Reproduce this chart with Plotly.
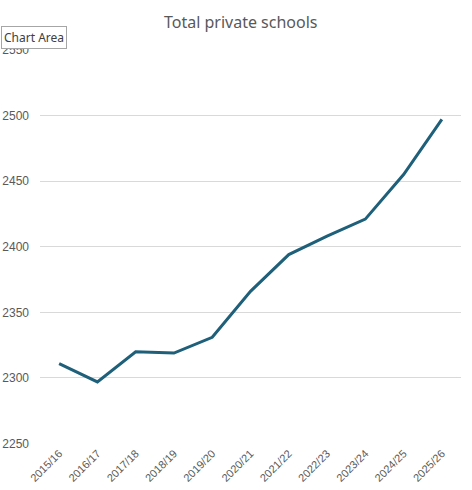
import plotly.graph_objects as go

# School years and number of private schools
years = ['2015/16', '2016/17', '2017/18', '2018/19', '2019/20', '2020/21',
         '2021/22', '2022/23', '2023/24', '2024/25', '2025/26']
schools = [2311, 2297, 2320, 2319, 2331, 2366, 2394, 2408, 2421, 2455, 2497]

y_ticks = [2250, 2300, 2350, 2400, 2450, 2500, 2550]

fig = go.Figure(go.Scatter(
    x=years, y=schools, mode='lines',
    line=dict(color='#1E5F7A', width=3),
    hoverinfo='skip',
))

fig.update_layout(
    width=472, height=490,
    margin=dict(l=40, r=11, t=49, b=46),
    paper_bgcolor='white', plot_bgcolor='white',
    showlegend=False,
    font=dict(family='Noto Sans, Lato, sans-serif', color='#595959'),
    title=dict(text='Total private schools', x=0.51, xanchor='center',
               y=0.955, yanchor='middle',
               font=dict(size=16, color='#595959')),
    xaxis=dict(showgrid=False, showline=False, ticks='', automargin=False,
               tickangle=-45, tickfont=dict(size=11, family='Liberation Sans, Arial'),
               range=[-0.5, len(years) - 0.5]),
    yaxis=dict(range=[2249.7, 2550.6], tickvals=y_ticks, automargin=False,
               showgrid=True, gridcolor='#D9D9D9', gridwidth=1,
               zeroline=False, showline=False, ticks='',
               tickfont=dict(size=12, family='Liberation Sans, Arial'),
               ticklabelstandoff=10),
)

# Excel-style "Chart Area" tooltip in the top-left corner
fig.add_annotation(
    text='Chart Area', xref='paper', yref='paper', x=-0.092, y=1.03,
    xanchor='left', yanchor='middle', showarrow=False,
    font=dict(size=12, color='#404040'),
    bgcolor='white', bordercolor='#A6A6A6', borderwidth=1, borderpad=2,
)

# drop the browser's default body margin so the figure fills the window
fig.write_html("out.html", config={'displayModeBar': False},
               post_script="document.body.style.margin='0';")
